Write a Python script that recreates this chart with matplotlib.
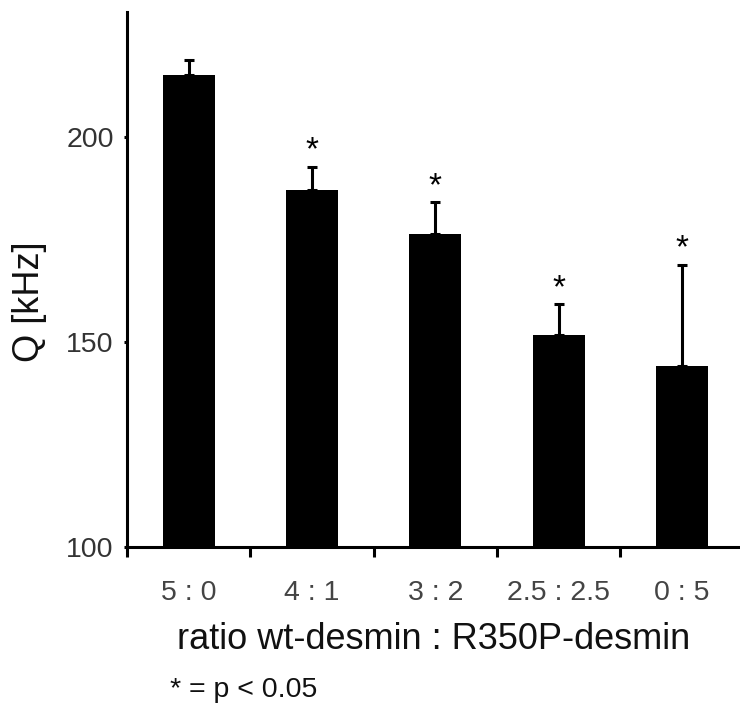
import numpy as np
import matplotlib
matplotlib.use("Agg")
import matplotlib.pyplot as plt

plt.rcParams['font.family'] = ['Liberation Sans', 'DejaVu Sans']

# data
ratios = ["5 : 0", "4 : 1", "3 : 2", "2.5 : 2.5", "0 : 5"]
q_mean = [215.0, 186.9, 176.2, 151.6, 144.0]
q_err = [3.8, 5.8, 7.9, 7.6, 24.8]
significant = [False, True, True, True, True]

fig = plt.figure(figsize=(7.4, 7.03), dpi=100)
ax = fig.add_axes([0.1716, 0.222, 0.8284, 0.761])

x = np.arange(len(ratios))
ax.bar(x, q_mean, width=0.42, color="black", zorder=2)
ax.errorbar(x, q_mean, yerr=[np.zeros(len(q_err)), q_err], fmt="none",
            ecolor="black", elinewidth=2.2, capsize=3.6, capthick=2.2, zorder=3)

# stars above the error bars
for xi, m, e, s in zip(x, q_mean, q_err, significant):
    if s:
        ax.annotate("*", xy=(xi, m + e), xytext=(0, 0), textcoords="offset points",
                    ha="center", va="bottom", fontsize=24, color="black")

ax.set_ylim(100, 230.4)
ax.set_xlim(-0.5, 4.47)

for side in ["top", "right"]:
    ax.spines[side].set_visible(False)
for side in ["left", "bottom"]:
    ax.spines[side].set_linewidth(2.2)

ax.set_yticks([100, 150, 200])
ax.tick_params(axis="y", direction="out", length=2.5, width=2.2, labelsize=20.5,
               labelcolor="#333333", pad=7)

# ticks between categories, labels at the centres
ax.set_xticks(x - 0.5)
ax.set_xticklabels([])
ax.set_xticks(x, minor=True)
ax.set_xticklabels(ratios, minor=True)
ax.tick_params(axis="x", which="major", direction="out", length=7, width=2.2)
ax.tick_params(axis="x", which="minor", length=0, labelsize=20.5,
               labelcolor="#444444", pad=24)

ax.set_xlabel("ratio wt-desmin : R350P-desmin", fontsize=26, color="#111111", labelpad=11)
ax.set_ylabel("Q [kHz]", fontsize=26, color="#111111")
ax.yaxis.set_label_coords(-0.131, 0.458)

fig.text(0.23, 0.008, "* = p < 0.05", fontsize=20.5, color="#111111", va="baseline")

fig.savefig("out.png", dpi=100)
